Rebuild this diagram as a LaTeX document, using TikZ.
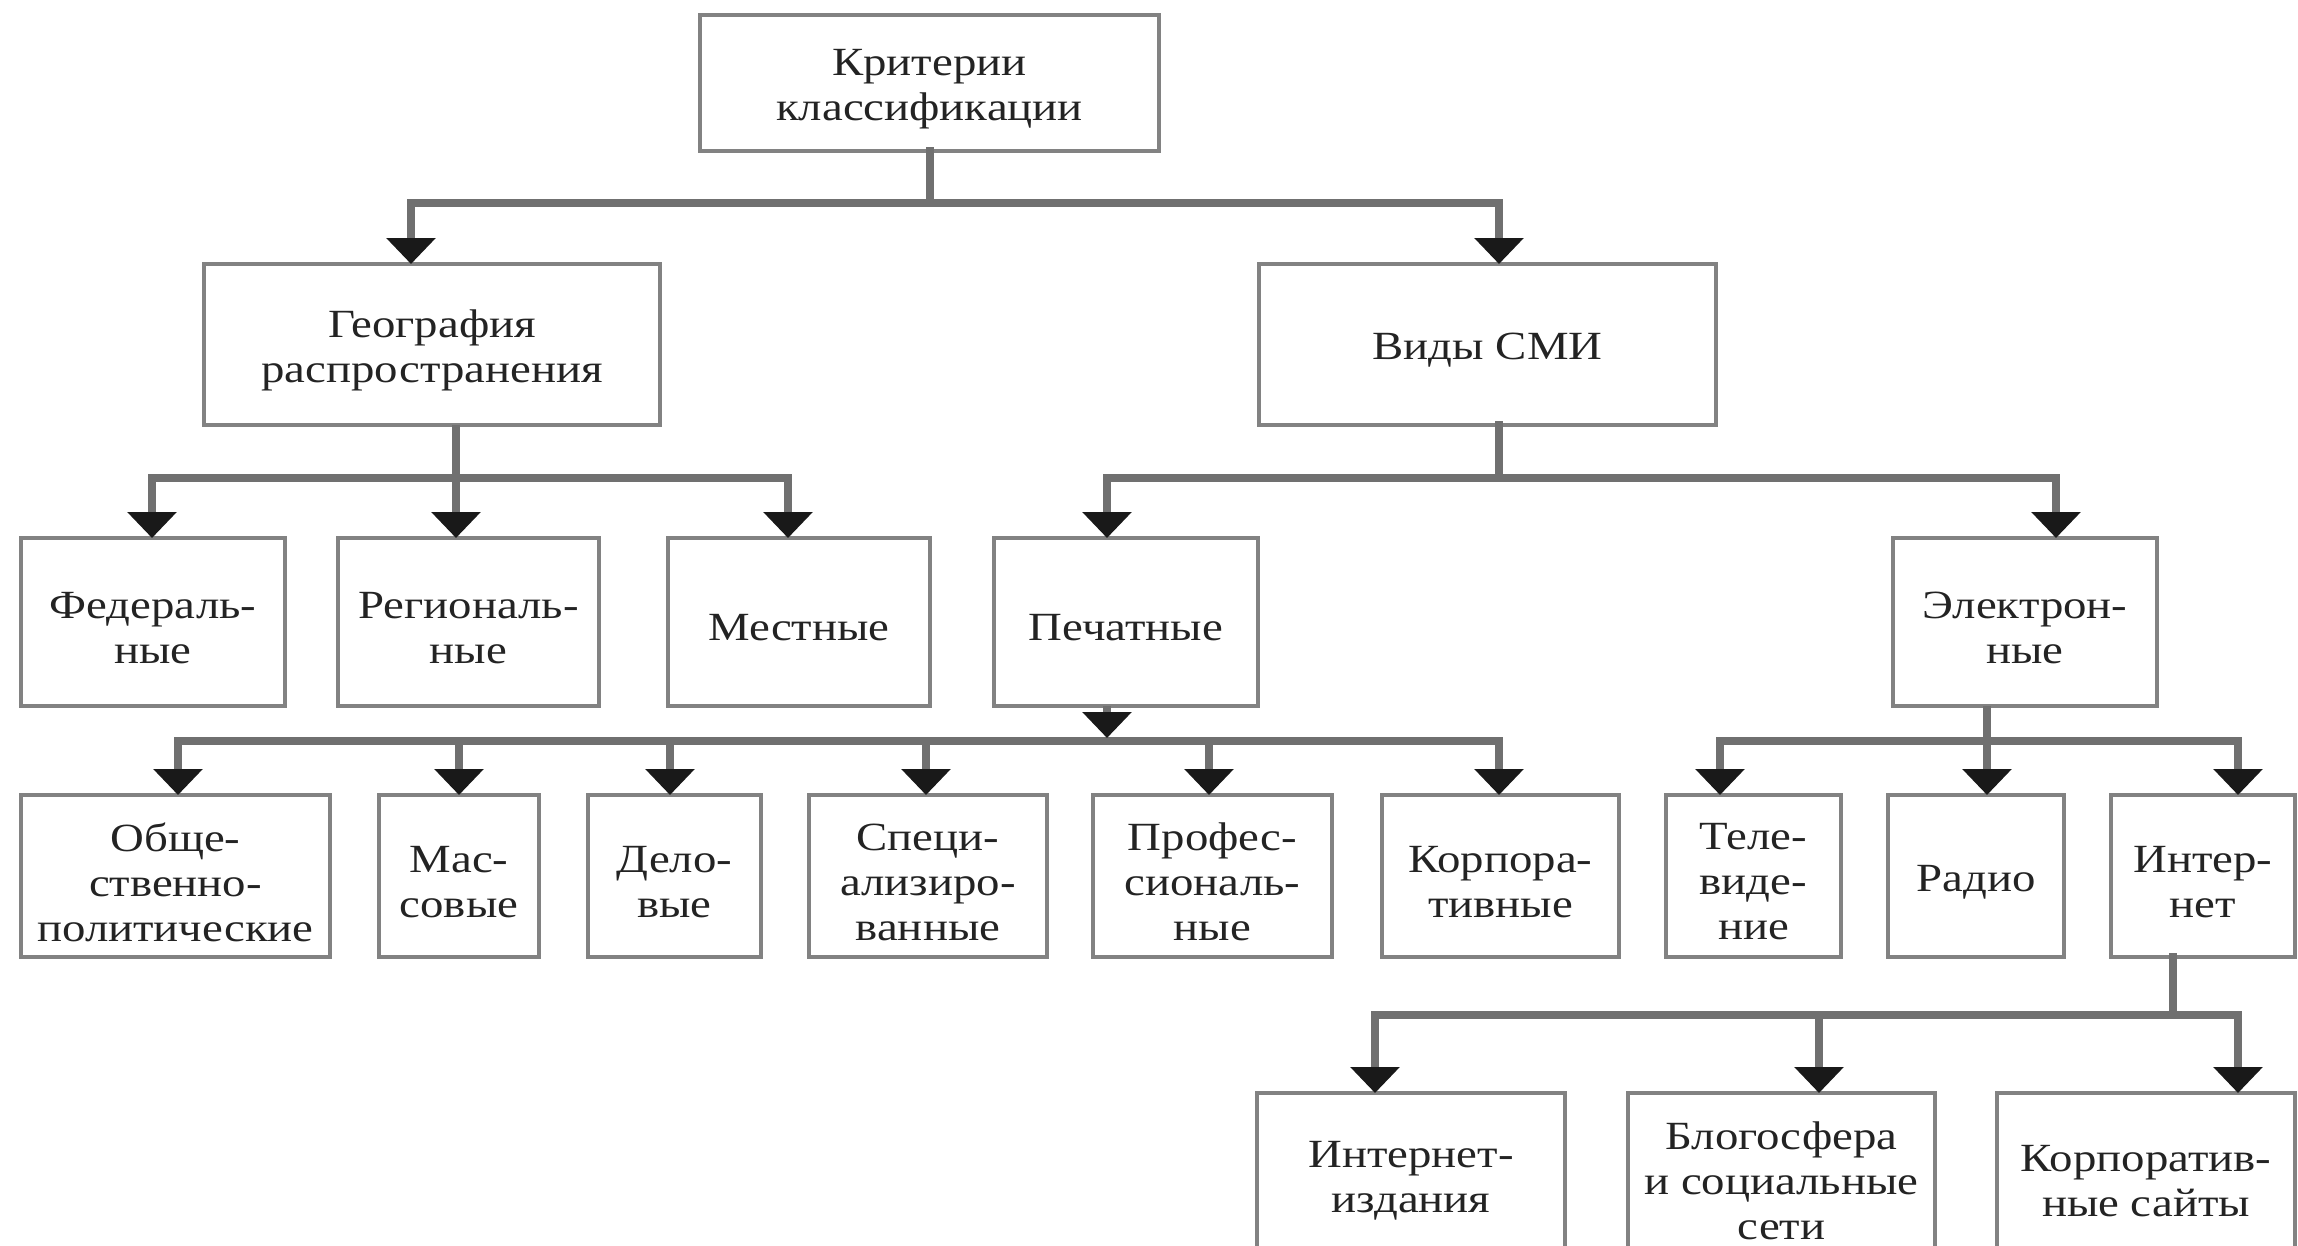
\documentclass[tikz,border=0pt]{standalone}
\usepackage{fontspec}
\newfontfamily\boxfont{Liberation Serif}[FakeStretch=1.17]
\usetikzlibrary{arrows.meta}
\definecolor{boxgray}{RGB}{130,130,130}
\definecolor{linegray}{RGB}{112,112,112}
\definecolor{txt}{RGB}{35,35,35}
\tikzset{
  box/.style={draw=boxgray, line width=3.5pt, inner sep=0pt, outer sep=0pt},
  lbl/.style={align=center, inner sep=0pt, text=txt, font=\boxfont\fontsize{40}{45}\selectfont},
  link/.style={draw=linegray, line width=8pt, line cap=rect},
  arr/.style={draw=linegray, line width=8pt, -{Triangle[width=48pt,length=26pt,color=black!90]}},
}
\newcommand\mybox[5]{%
  \node[box, minimum width=#3, minimum height=#4] (#1) at (#2) {};
  \node[lbl] (#1-t) at ([yshift=-6pt]#1.center) {#5};}
\begin{document}
\begin{tikzpicture}[x=1pt,y=-1pt]
\useasboundingbox (0,0) rectangle (2298,1245);
\clip (0,0) rectangle (2298,1245);
% level 0-1
\mybox{top}{929.5,83}{459}{136}{Критерии\\классификации}
\mybox{geo}{432,344.5}{456}{161}{География\\распространения}
\mybox{vidy}{1487.5,344.5}{457}{161}{Виды СМИ}
% level 2
\mybox{fed}{153,622}{264}{168}{Федераль-\\ные}
\mybox{reg}{468.5,622}{261}{168}{Региональ-\\ные}
\mybox{mest}{799,622}{262}{168}{Местные}
\mybox{pech}{1126,622}{264}{168}{Печатные}
\mybox{elec}{2025,622}{264}{168}{Электрон-\\ные}
% level 3
\mybox{obsh}{175.5,876}{309}{162}{Обще-\\ственно-\\политические}
\mybox{mas}{459,876}{160}{162}{Мас-\\совые}
\mybox{delo}{674.5,876}{173}{162}{Дело-\\вые}
\mybox{spec}{928,876}{238}{162}{Специ-\\ализиро-\\ванные}
\mybox{prof}{1212.5,876}{239}{162}{Профес-\\сиональ-\\ные}
\mybox{korp}{1500.5,876}{237}{162}{Корпора-\\тивные}
\mybox{tele}{1753.5,876}{175}{162}{Теле-\\виде-\\ние}
\mybox{radio}{1976,876}{176}{162}{Радио}
\mybox{inet}{2203,876}{184}{162}{Интер-\\нет}
% level 4
\mybox{izd}{1411,1175}{308}{164}{Интернет-\\издания}
\mybox{blog}{1781.5,1175}{307}{164}{Блогосфера\\и социальные\\сети}
\mybox{ksait}{2146,1175}{298}{164}{Корпоратив-\\ные сайты}

% bus points
\coordinate (b0) at (930,203);
\coordinate (b0l) at (411,203);
\coordinate (b0r) at (1499,203);
\coordinate (b1l) at (152,477.5);
\coordinate (b1r) at (788,477.5);
\coordinate (b2) at (1499,478);
\coordinate (b2l) at (1107,478);
\coordinate (b2r) at (2056,478);
\coordinate (b3l) at (178,741);
\coordinate (b3r) at (1499,741);
\coordinate (b4l) at (1720,741);
\coordinate (b4r) at (2238,741);
\coordinate (b5) at (2173,1015);
\coordinate (b5l) at (1375,1015);
\coordinate (b5r) at (2238,1015);

% top level
\draw[link] (top.south -| b0) -- (b0);
\draw[link] (b0l) -- (b0r);
\draw[arr] (b0l) -- (b0l |- geo.north);
\draw[arr] (b0r) -- (b0r |- vidy.north);
% geography
\draw[link] (b1l) -- (b1r);
\draw[arr] (geo.south -| 456,0) -- (reg.north -| 456,0);
\draw[arr] (b1l) -- (b1l |- fed.north);
\draw[arr] (b1r) -- (b1r |- mest.north);
% vidy
\draw[link] (vidy.south -| b2) -- (b2);
\draw[link] (b2l) -- (b2r);
\draw[arr] (b2l) -- (b2l |- pech.north);
\draw[arr] (b2r) -- (b2r |- elec.north);
% pechatnye
\draw[link] (b3l) -- (b3r);
\draw[arr] (pech.south -| 1107,0) -- (1107,738);
\draw[arr] (b3l) -- (b3l |- obsh.north);
\draw[arr] (459,741) -- (459,0 |- mas.north);
\draw[arr] (670,741) -- (670,0 |- delo.north);
\draw[arr] (926,741) -- (926,0 |- spec.north);
\draw[arr] (1209,741) -- (1209,0 |- prof.north);
\draw[arr] (b3r) -- (b3r |- korp.north);
% elektronnye
\draw[link] (b4l) -- (b4r);
\draw[arr] (elec.south -| 1987,0) -- (radio.north -| 1987,0);
\draw[arr] (b4l) -- (b4l |- tele.north);
\draw[arr] (b4r) -- (b4r |- inet.north);
% internet
\draw[link] (inet.south -| b5) -- (b5);
\draw[link] (b5l) -- (b5r);
\draw[arr] (b5l) -- (b5l |- izd.north);
\draw[arr] (1819,1015) -- (1819,0 |- blog.north);
\draw[arr] (b5r) -- (b5r |- ksait.north);
\end{tikzpicture}
\end{document}
